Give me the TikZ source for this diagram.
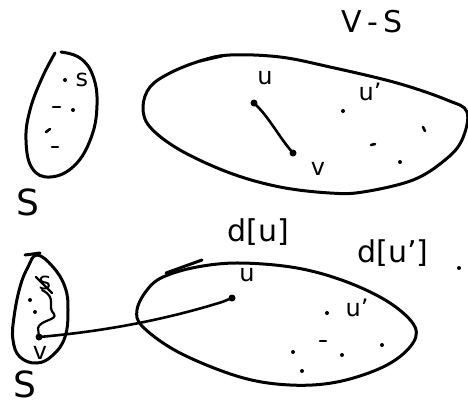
\documentclass[tikz,border=0pt]{standalone}
\usepackage{fontspec}
\setmainfont{DejaVu Sans}
\begin{document}
\begin{tikzpicture}[x=1pt,y=-1pt,line cap=round,line join=round,
  stroke/.style={line width=3pt},
  bigpt/.style={circle,fill,inner sep=0pt,minimum size=7pt},
  smallpt/.style={circle,fill,inner sep=0pt,minimum size=4pt},
  lbl/.style={inner sep=0pt,font=\fontsize{24}{24}\selectfont},
  biglbl/.style={inner sep=0pt,font=\fontsize{36}{36}\selectfont},
  midlbl/.style={inner sep=0pt,font=\fontsize{30}{30}\selectfont},
  tickmark/.style={line width=2.6pt}]
\useasboundingbox (0,0) rectangle (468,407);
% ---------- top half ----------
% S blob (top)
\draw[stroke] plot[smooth, tension=0.7] coordinates {(61,52) (80,58) (93,76) (97,105) (91,138) (74,166) (50,177) (32,168) (26,140) (30,110) (42,78) (55,53)};
\node[smallpt] (s1) at (65,80) {};
\node[lbl] (s1l) at (82,80) {s};
\draw[tickmark] (53,107) -- (60,107);
\node[smallpt] (a1) at (73,110) {};
\draw[tickmark] (46,132) -- (50,129);
\draw[tickmark] (52,147) -- (58,147);
\node[biglbl] (S1) at (28,202) {S};
% V-S blob (top)
\draw[stroke] plot[smooth cycle, tension=0.6] coordinates {(230,55) (280,57) (330,67) (397,83) (447,100) (467,112) (462,140) (445,160) (413,180) (363,192) (330,193) (280,187) (230,173) (180,150) (150,127) (143,107) (150,87) (170,73) (200,61)};
\draw[stroke] (200,61) -- (222,56);
\node[midlbl] (VS) at (372,22) {V\,-\,S};
\node[bigpt] (u1) at (254,103) {};
\node[bigpt] (v1) at (293,153) {};
\draw[line width=2.6pt] (u1.center) .. controls (270,118) and (278,136) .. (v1.center);
\node[lbl] (u1l) at (265,78) {u};
\node[lbl] (v1l) at (318,169) {v};
\node[smallpt] (w1) at (343,111) {};
\node[lbl] (w1l) at (370,92) {u'};
\draw[tickmark] (423,127) -- (425,131);
\draw[tickmark] (371,145) -- (375,144);
\node[smallpt] (b1) at (400,162) {};
% ---------- bottom half ----------
\node[midlbl] (du) at (258,232) {d[u]};
\node[midlbl] (duw) at (393,253) {d[u']};
\node[smallpt] (p2) at (459,268) {};
% S blob (bottom)
\draw[stroke] plot[smooth cycle, tension=0.7] coordinates {(37,255) (53,267) (65,287) (68,310) (65,337) (53,355) (37,363) (20,357) (13,340) (14,317) (20,287) (28,267)};
\draw[stroke] (25,255) -- (40,253);
\node[lbl] (s2l) at (45,283) {s};
\draw[line width=2.2pt] (36,277) -- (52,293);
\node[bigpt] (v2) at (39,337) {};
\draw[line width=2.2pt] (42,290) .. controls (58,298) and (46,306) .. (54,314)
  .. controls (58,320) and (40,320) .. (38,328) -- (v2.center);
\node[smallpt] (c2) at (30,300) {};
\node[smallpt] (d2) at (35,312) {};
\node[lbl] (v2l) at (40,353) {v};
\node[biglbl] (S2) at (25,384) {S};
% big blob (bottom)
\draw[stroke] plot[smooth cycle, tension=0.6] coordinates {(197,267) (240,263) (297,268) (347,282) (390,303) (415,327) (410,347) (383,367) (337,382) (290,385) (240,377) (180,353) (143,327) (137,310) (147,290) (163,277)};
\draw[stroke] (166,273) -- (202,260);
\node[bigpt] (u2) at (232,298) {};
\draw[line width=2.6pt] (v2.center) .. controls (120,330) and (180,315) .. (222,302) -- (u2.center);
\node[lbl] (u2l) at (247,275) {u};
\node[smallpt] (w2) at (327,313) {};
\node[lbl] (w2l) at (357,308) {u'};
\draw[tickmark] (320,341) -- (326,341);
\node[smallpt] (e2) at (293,352) {};
\node[smallpt] (f2) at (342,355) {};
\node[smallpt] (g2) at (382,345) {};
\node[smallpt] (h2) at (302,371) {};
\end{tikzpicture}
\end{document}
